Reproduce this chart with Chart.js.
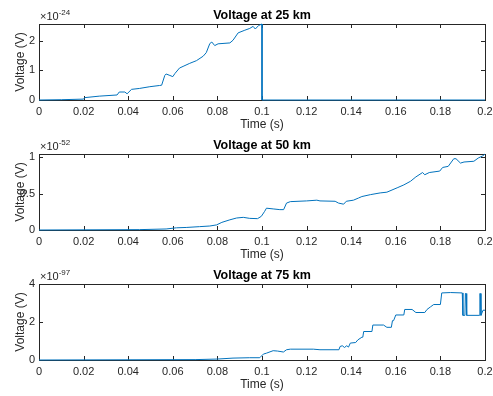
<!DOCTYPE html>
<html>
<head>
<meta charset="utf-8">
<script src="https://cdn.jsdelivr.net/npm/chart.js@4/dist/chart.umd.min.js"></script>
<style>
  html, body { margin: 0; padding: 0; background: #fff; }
  #wrap { position: relative; width: 493px; height: 396px; }
  #wrap canvas { position: absolute; left: 0; top: 0; }
</style>
</head>
<body>
<div id="wrap">
  <canvas id="c1" width="493" height="396"></canvas>
  <canvas id="c2" width="493" height="396"></canvas>
  <canvas id="c3" width="493" height="396"></canvas>
</div>
<script>
// values
const xTicks = [0, 0.02, 0.04, 0.06, 0.08, 0.1, 0.12, 0.14, 0.16, 0.18, 0.2];

// 25 km, y in units of 1e-24 V
const t25 = [0, 0.01, 0.02, 0.0205, 0.027, 0.035, 0.036, 0.0385, 0.0395, 0.0415,
  0.045, 0.0497, 0.054, 0.055, 0.0564, 0.057, 0.0587, 0.06, 0.061, 0.063,
  0.065, 0.0676, 0.0706, 0.0736, 0.075, 0.0766, 0.0775, 0.0788, 0.0803, 0.0856,
  0.087, 0.0893, 0.0923, 0.0945, 0.096, 0.097, 0.0985, 0.1, 0.1, 0.2];
const v25 = [0, 0.01, 0.03, 0.08, 0.13, 0.17, 0.27, 0.27, 0.21, 0.36,
  0.39, 0.45, 0.49, 0.5, 0.83, 0.88, 0.83, 0.79, 0.9, 1.08,
  1.15, 1.24, 1.33, 1.48, 1.6, 1.91, 1.96, 1.84, 1.9, 1.93,
  2.02, 2.27, 2.36, 2.42, 2.49, 2.40, 2.52, 2.57, 0, 0];
const yTicks25 = [0, 1, 2];

// 50 km, y in units of 1e-52 V
const t50 = [0, 0.045, 0.057, 0.0616, 0.066, 0.072, 0.0766, 0.0796, 0.082, 0.0856,
  0.0886, 0.0916, 0.0945, 0.098, 0.0997, 0.1012, 0.102, 0.105, 0.108, 0.1097,
  0.111, 0.1127, 0.12, 0.1246, 0.126, 0.1328, 0.1343, 0.1366, 0.1378, 0.141,
  0.1433, 0.1448, 0.1486, 0.153, 0.156, 0.1606, 0.1636, 0.1666, 0.169, 0.172,
  0.173, 0.175, 0.1797, 0.181, 0.1835, 0.186, 0.187, 0.189, 0.1906, 0.195,
  0.197, 0.199, 0.2];
const v50 = [0, 0.005, 0.014, 0.03, 0.035, 0.046, 0.055, 0.07, 0.105, 0.14,
  0.165, 0.174, 0.16, 0.156, 0.188, 0.257, 0.30, 0.29, 0.28, 0.28,
  0.37, 0.39, 0.40, 0.41, 0.40, 0.395, 0.37, 0.355, 0.395, 0.41,
  0.44, 0.46, 0.486, 0.51, 0.52, 0.58, 0.62, 0.67, 0.73, 0.79,
  0.76, 0.79, 0.81, 0.86, 0.875, 0.98, 0.98, 0.92, 0.935, 0.945,
  0.99, 1.02, 1.045];
const yTicks50 = [0, 0.5, 1];

// 75 km, y in units of 1e-97 V
const t75 = [0, 0.07, 0.08, 0.087, 0.0945, 0.099, 0.1006, 0.102, 0.105, 0.107,
  0.1096, 0.111, 0.1127, 0.123, 0.126, 0.1345, 0.135, 0.136, 0.137, 0.138,
  0.1388, 0.1396, 0.142, 0.143, 0.1448, 0.1452, 0.1456, 0.1493, 0.1497, 0.1545,
  0.156, 0.158, 0.1585, 0.159, 0.16, 0.1636, 0.164, 0.1673, 0.169, 0.173,
  0.174, 0.1756, 0.177, 0.18, 0.1806, 0.1846, 0.1898, 0.1901, 0.191, 0.1912,
  0.1915, 0.1918, 0.1975, 0.1977, 0.1979, 0.1982, 0.1991, 0.2];
const v75 = [0, 0.02, 0.05, 0.1, 0.12, 0.12, 0.31, 0.36, 0.49, 0.47,
  0.42, 0.54, 0.57, 0.57, 0.54, 0.54, 0.71, 0.75, 0.66, 0.75,
  0.68, 0.89, 0.92, 1.06, 1.2, 1.2, 1.5, 1.5, 1.84, 1.84,
  1.72, 1.72, 2.07, 2.07, 2.37, 2.37, 2.66, 2.66, 2.5, 2.5,
  2.66, 2.8, 2.92, 2.92, 3.53, 3.55, 3.53, 2.35, 2.35, 3.5,
  3.5, 2.35, 2.35, 3.5, 3.5, 2.35, 2.62, 2.62];
const yTicks75 = [0, 2, 4];

const FONT = '"Liberation Sans", Arial, Helvetica, sans-serif';
const AXIS = '#262626';
const LINE = '#0072BD';

// matlab style box, inward ticks, title, labels and exponent
const matlabAxes = {
  id: 'matlabAxes',
  beforeDatasetsDraw(chart, args, opts) {
    const ctx = chart.ctx, a = chart.chartArea, x = chart.scales.x, y = chart.scales.y;
    const tl = 4;
    ctx.save();
    ctx.strokeStyle = AXIS;
    ctx.lineWidth = 1;
    ctx.strokeRect(a.left + 0.5, a.top + 0.5, a.right - a.left, a.bottom - a.top);
    ctx.beginPath();
    x.ticks.forEach(function(t) {
      let px = Math.round(x.getPixelForValue(t.value)) + 0.5;
      ctx.moveTo(px, a.bottom); ctx.lineTo(px, a.bottom - tl);
      ctx.moveTo(px, a.top); ctx.lineTo(px, a.top + tl);
    });
    y.ticks.forEach(function(t) {
      let py = Math.round(y.getPixelForValue(t.value)) + 0.5;
      ctx.moveTo(a.left, py); ctx.lineTo(a.left + tl, py);
      ctx.moveTo(a.right, py); ctx.lineTo(a.right - tl, py);
    });
    ctx.stroke();
    ctx.restore();
  },
  afterDraw(chart, args, opts) {
    const ctx = chart.ctx, a = chart.chartArea;
    const cx = (a.left + a.right) / 2;
    ctx.save();
    ctx.fillStyle = '#000';
    ctx.textAlign = 'center';
    ctx.textBaseline = 'alphabetic';
    ctx.font = 'bold 12.5px ' + FONT;
    ctx.fillText(opts.title, cx, a.top - 5);

    ctx.fillStyle = AXIS;
    ctx.font = '12px ' + FONT;
    ctx.fillText('Time (s)', cx, a.bottom + 28);

    ctx.save();
    ctx.translate(23.5, (a.top + a.bottom) / 2);
    ctx.rotate(-Math.PI / 2);
    ctx.fillText('Voltage (V)', 0, 0);
    ctx.restore();

    ctx.textAlign = 'left';
    ctx.font = '11px ' + FONT;
    ctx.fillText('\u00d710', a.left + 1, a.top - 4);
    let w = ctx.measureText('\u00d710').width;
    ctx.font = '8px ' + FONT;
    ctx.fillText(opts.exp, a.left + 1 + w, a.top - 9);
    ctx.restore();
  }
};

function makePanel(id, ts, vs, yMax, yTicks, title, exp, top, bottom) {
  let pts = ts.map(function(t, i) { return { x: t, y: vs[i] }; });
  return new Chart(document.getElementById(id).getContext('2d'), {
    type: 'line',
    plugins: [matlabAxes],
    data: {
      datasets: [{
        data: pts,
        borderColor: LINE,
        borderWidth: 1,
        pointRadius: 0,
        fill: false,
        tension: 0,
        clip: 3
      }]
    },
    options: {
      responsive: false,
      animation: false,
      devicePixelRatio: 1,
      layout: { padding: { left: 0, right: 8, top: top, bottom: 396 - bottom - 20 } },
      plugins: {
        legend: { display: false },
        tooltip: { enabled: false },
        matlabAxes: { title: title, exp: exp }
      },
      scales: {
        x: {
          type: 'linear',
          min: 0, max: 0.2,
          grid: { display: false, drawTicks: false },
          border: { display: false },
          afterBuildTicks: function(s) { s.ticks = xTicks.map(function(v) { return { value: v }; }); },
          afterFit: function(s) { s.height = 20; s.paddingLeft = 0; s.paddingRight = 0; },
          ticks: {
            padding: 5,
            color: AXIS,
            font: { family: FONT, size: 11 },
            maxRotation: 0,
            autoSkip: false,
            callback: function(v) { return String(+v.toFixed(2)); }
          }
        },
        y: {
          type: 'linear',
          min: 0, max: yMax,
          grid: { display: false, drawTicks: false },
          border: { display: false },
          afterBuildTicks: function(s) { s.ticks = yTicks.map(function(v) { return { value: v }; }); },
          afterFit: function(s) { s.width = 39; s.paddingTop = 0; s.paddingBottom = 0; },
          ticks: {
            padding: 4,
            color: AXIS,
            font: { family: FONT, size: 11 },
            callback: function(v) { return String(v); }
          }
        }
      }
    }
  });
}

makePanel('c1', t25, v25, 2.57, yTicks25, 'Voltage at 25 km', '-24', 24, 100);
makePanel('c2', t50, v50, 1.045, yTicks50, 'Voltage at 50 km', '-52', 154, 230);
makePanel('c3', t75, v75, 4, yTicks75, 'Voltage at 75 km', '-97', 284, 360);
</script>
</body>
</html>
